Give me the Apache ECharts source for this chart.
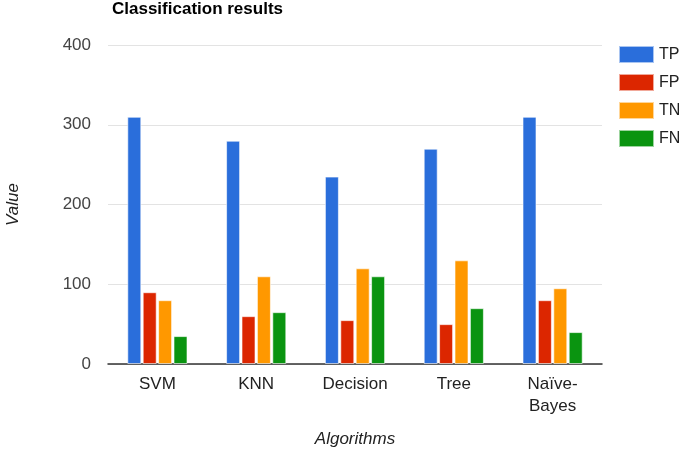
<!DOCTYPE html>
<html>
<head>
<meta charset="utf-8">
<script src="https://cdn.jsdelivr.net/npm/echarts@6/dist/echarts.min.js"></script>
<style>html,body{margin:0;padding:0;background:#fff}#c{width:685px;height:451px}</style>
</head>
<body>
<div id="c"></div>
<script>
var categories = ["SVM", "KNN", "Decision", "Tree", "Naïve-Bayes"];
var seriesNames = ["TP", "FP", "TN", "FN"];
var tpValues = [310, 280, 235, 270, 310];
var fpValues = [90, 60, 55, 50, 80];
var tnValues = [80, 110, 120, 130, 95];
var fnValues = [35, 65, 110, 70, 40];
var colors = ["#2a6edb", "#dc2600", "#ff9800", "#0a9410"];
var allValues = [tpValues, fpValues, tnValues, fnValues];

var chart = echarts.init(document.getElementById('c'));
var font = 'Liberation Sans, Arial, sans-serif';
chart.setOption({
  animation: false,
  color: colors,
  title: {
    text: 'Classification results',
    left: 107, top: -4,
    textStyle: {fontFamily: font, fontSize: 17, fontWeight: 'bold', color: '#000'}
  },
  legend: {
    orient: 'vertical',
    left: 613, top: 40,
    itemWidth: 35, itemHeight: 17,
    itemGap: 9,
    icon: 'rect',
    textStyle: {fontFamily: font, fontSize: 16, color: '#222'},
    data: seriesNames
  },
  grid: {left: 108, right: 83, top: 45, bottom: 87, containLabel: false, outerBoundsMode: 'none'},
  xAxis: {
    type: 'category',
    data: categories,
    name: 'Algorithms',
    nameLocation: 'middle',
    nameGap: 67,
    nameTextStyle: {fontFamily: font, fontSize: 17, fontStyle: 'italic', color: '#222'},
    axisTick: {show: false},
    axisLine: {lineStyle: {color: '#333', width: 1.5}},
    axisLabel: {
      fontFamily: font, fontSize: 17, color: '#222', margin: 9, lineHeight: 22,
      formatter: function (v) { return v.replace('-', '-\n'); }
    }
  },
  yAxis: {
    type: 'value',
    min: 0, max: 400, interval: 100,
    name: 'Value',
    nameLocation: 'middle',
    nameGap: 86,
    nameTextStyle: {fontFamily: font, fontSize: 17, fontStyle: 'italic', color: '#222'},
    axisLabel: {fontFamily: font, fontSize: 17, color: '#444', margin: 17},
    splitLine: {lineStyle: {color: '#e3e3e3', width: 1}},
    axisLine: {show: false},
    axisTick: {show: false}
  },
  series: seriesNames.map(function (n, i) {
    return {
      name: n, type: 'bar', data: allValues[i],
      barWidth: 14, barGap: '10%',
      itemStyle: {color: colors[i], borderColor: 'rgba(255,255,255,0.6)', borderWidth: 1}
    };
  })
});
</script>
</body>
</html>
